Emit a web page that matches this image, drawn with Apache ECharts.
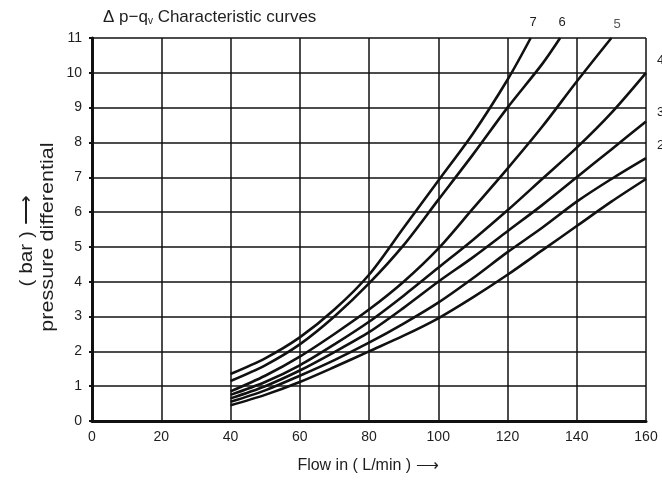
<!DOCTYPE html>
<html>
<head>
<meta charset="utf-8">
<script src="https://cdn.jsdelivr.net/npm/echarts@6/dist/echarts.min.js"></script>
<style>
  html, body { margin: 0; padding: 0; background: #ffffff; }
  #chart { width: 662px; height: 480px; }
</style>
</head>
<body>
<div id="chart"></div>
<script>
// Flow (L/min) sample points shared by the curves that run to the right edge
const flowSteps = [40, 50, 60, 70, 80, 90, 100, 110, 120, 130, 140, 150, 160];

// Pressure differential (bar) for each characteristic curve
const curve1 = [0.45, 0.75, 1.12, 1.55, 2.0, 2.45, 2.95, 3.55, 4.2, 4.9, 5.6, 6.3, 6.95];
const curve2 = [0.55, 0.88, 1.3, 1.75, 2.25, 2.8, 3.4, 4.1, 4.85, 5.55, 6.3, 6.95, 7.55];
const curve3 = [0.65, 1.0, 1.45, 1.98, 2.55, 3.25, 4.0, 4.7, 5.45, 6.2, 7.0, 7.8, 8.6];
const curve4 = [0.75, 1.12, 1.6, 2.2, 2.85, 3.6, 4.4, 5.2, 6.05, 6.95, 7.85, 8.85, 10.0];

// Curves 5-7 leave the chart through the top edge
const curve5Flow = [40, 50, 60, 70, 80, 90, 100, 110, 120, 130, 140, 150];
const curve5 = [0.85, 1.3, 1.85, 2.5, 3.2, 4.0, 4.95, 6.1, 7.25, 8.45, 9.75, 11];
const curve6Flow = [40, 50, 60, 70, 80, 90, 100, 110, 120, 130, 135.2];
const curve6 = [1.15, 1.6, 2.2, 3.0, 3.95, 5.05, 6.35, 7.65, 9.0, 10.25, 11];
const curve7Flow = [40, 50, 60, 70, 80, 90, 100, 110, 120, 126.7];
const curve7 = [1.35, 1.8, 2.4, 3.2, 4.2, 5.55, 6.9, 8.25, 9.8, 11];

const curveNames = ['1', '2', '3', '4', '5', '6', '7'];
const curveFlows = [flowSteps, flowSteps, flowSteps, flowSteps, curve5Flow, curve6Flow, curve7Flow];
const curveValues = [curve1, curve2, curve3, curve4, curve5, curve6, curve7];

const FONT = '"Liberation Sans", Arial, sans-serif';
const INK = '#111';
const TEXT = '#1e1e1e';

const series = curveNames.map((name, i) => ({
  name: name,
  type: 'line',
  data: curveFlows[i].map((q, k) => [q, curveValues[i][k]]),
  smooth: 0.3,
  showSymbol: false,
  symbol: 'none',
  lineStyle: { color: INK, width: 2.6 },
  silent: true,
  animation: false
}));

const chart = echarts.init(document.getElementById('chart'), null, { renderer: 'canvas' });

chart.setOption({
  backgroundColor: '#ffffff',
  animation: false,
  grid: { left: 92, right: 16, top: 38, bottom: 59, containLabel: false },
  xAxis: {
    type: 'value',
    min: 0, max: 160, interval: 20,
    axisLine: { show: true, lineStyle: { color: INK, width: 3 } },
    axisTick: { show: false },
    axisLabel: { color: TEXT, fontSize: 14, fontFamily: FONT, margin: 9 },
    splitLine: { show: true, lineStyle: { color: INK, width: 1.5 } }
  },
  yAxis: {
    type: 'value',
    min: 0, max: 11, interval: 1,
    axisLine: { show: true, lineStyle: { color: INK, width: 3 } },
    axisTick: { show: true, length: 3, lineStyle: { color: INK, width: 2 } },
    axisLabel: { color: TEXT, fontSize: 14, fontFamily: FONT, margin: 10 },
    splitLine: { show: true, lineStyle: { color: INK, width: 1.5 } }
  },
  series: series,
  graphic: [
    {
      type: 'text', x: 103, y: 9,
      style: {
        text: 'Δ p−q{s|v} Characteristic curves',
        font: '17px ' + FONT, fill: TEXT,
        rich: { s: { fontSize: 10, fontFamily: FONT, fill: TEXT, padding: [7, 0, 0, 0] } }
      }
    },
    {
      type: 'text', x: 368, y: 466,
      style: { text: 'Flow in ( L/min ) ⟶', font: '16px ' + FONT, fill: TEXT, align: 'center', verticalAlign: 'middle' }
    },
    {
      type: 'text', x: 27, y: 241, rotation: Math.PI / 2, scaleX: 1.15,
      style: { text: '( bar ) ⟶', font: '18px ' + FONT, fill: TEXT, align: 'center', verticalAlign: 'middle' }
    },
    {
      type: 'text', x: 48, y: 237, rotation: Math.PI / 2, scaleX: 1.2,
      style: { text: 'pressure differential', font: '18px ' + FONT, fill: TEXT, align: 'center', verticalAlign: 'middle' }
    },
    // curve numbers
    { type: 'text', x: 533, y: 22, style: { text: '7', font: '13px ' + FONT, fill: TEXT, align: 'center', verticalAlign: 'middle' } },
    { type: 'text', x: 562, y: 22, style: { text: '6', font: '13px ' + FONT, fill: TEXT, align: 'center', verticalAlign: 'middle' } },
    { type: 'text', x: 617, y: 24, style: { text: '5', font: '13px ' + FONT, fill: '#555', align: 'center', verticalAlign: 'middle' } },
    { type: 'text', x: 657, y: 60, style: { text: '4', font: '13px ' + FONT, fill: TEXT, verticalAlign: 'middle' } },
    { type: 'text', x: 657, y: 112, style: { text: '3', font: '13px ' + FONT, fill: TEXT, verticalAlign: 'middle' } },
    { type: 'text', x: 657, y: 145, style: { text: '2', font: '13px ' + FONT, fill: TEXT, verticalAlign: 'middle' } }
  ]
});
</script>
</body>
</html>
